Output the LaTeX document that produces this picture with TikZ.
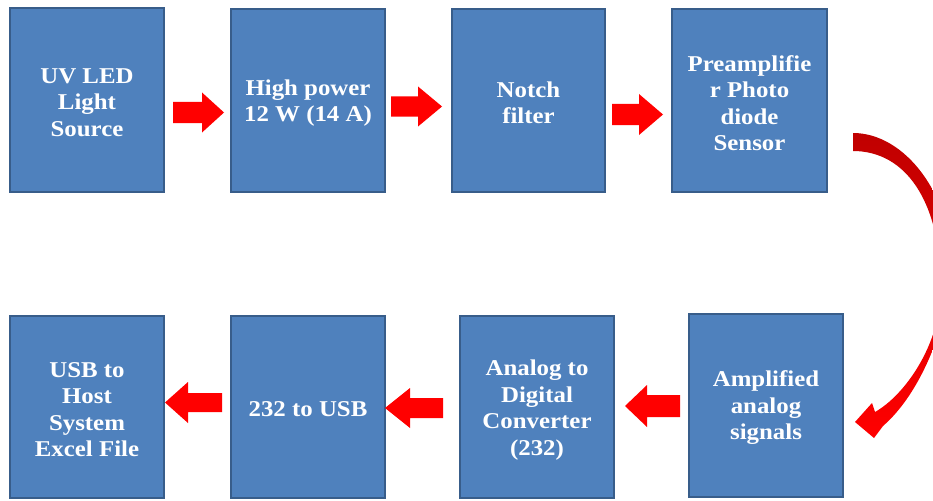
\documentclass[tikz,border=0pt]{standalone}
\usepackage{fontspec}
\setmainfont{Liberation Serif}[FakeStretch=1.1]
\definecolor{boxfill}{HTML}{4F81BD}
\definecolor{boxline}{HTML}{385D8A}
\definecolor{arrowred}{HTML}{FF0000}
\definecolor{darkred}{HTML}{C00000}
\newcommand\barr[6]{\fill[arrowred] (#1,#3-#4) -- (#5,#3-#4) -- (#5,#3-#6) -- (#2,#3) -- (#5,#3+#6) -- (#5,#3+#4) -- (#1,#3+#4) -- cycle;}
\tikzset{
  blockbox/.style={draw=boxline, line width=2pt, fill=boxfill, inner sep=0pt},
  boxtext/.style={text=white, align=center, inner sep=0pt,
    font=\fontsize{22.6}{26.5}\selectfont\bfseries}
}
\begin{document}
\begin{tikzpicture}[x=1pt,y=-1pt]
\useasboundingbox (0,0) rectangle (933,500);
\clip (0,0) rectangle (933,500);
\node[blockbox, minimum width=154pt, minimum height=184pt] (b1) at (87,100) {};
\node[blockbox, minimum width=154pt, minimum height=183pt] (b2) at (308,100.5) {};
\node[blockbox, minimum width=153pt, minimum height=183pt] (b3) at (528.5,100.5) {};
\node[blockbox, minimum width=155pt, minimum height=183pt] (b4) at (749.5,100.5) {};
\node[blockbox, minimum width=154pt, minimum height=182pt] (b5) at (87,407) {};
\node[blockbox, minimum width=154pt, minimum height=182pt] (b6) at (308,407) {};
\node[blockbox, minimum width=154pt, minimum height=182pt] (b7) at (537,407) {};
\node[blockbox, minimum width=154pt, minimum height=183pt] (b8) at (766,405.5) {};
\node[boxtext] (t1) at ([yshift=-2.5pt]b1.center) {UV LED\\Light\\Source};
\node[boxtext] (t2) at ([yshift=-2.5pt]b2.center) {High power\\12 W (14 A)};
\node[boxtext] (t3) at ([yshift=-2.5pt]b3.center) {Notch\\filter};
\node[boxtext] (t4) at ([yshift=-2.5pt]b4.center) {Preamplifie\\r Photo\\diode\\Sensor};
\node[boxtext] (t5) at ([yshift=-2.5pt]b5.center) {USB to\\Host\\System\\Excel File};
\node[boxtext] (t6) at ([yshift=-2.5pt]b6.center) {232 to USB};
\node[boxtext] (t7) at ([yshift=-3pt]b7.center) {Analog to\\Digital\\Converter\\(232)};
\node[boxtext] (t8) at ([yshift=-2.5pt]b8.center) {Amplified\\analog\\signals};
% straight block arrows
\barr{173}{224}{112.5}{10.5}{202}{20}
\barr{391}{442}{106.5}{10}{418}{20}
\barr{612}{663}{114.5}{10.5}{639}{20.5}
\barr{222}{165}{402.5}{9.5}{188}{20.5}
\barr{443}{385}{408}{10}{410}{20}
\barr{680}{625}{406}{11}{647}{21}
% curved arrow
\shade[top color=darkred, bottom color=arrowred]
  (853,133) .. controls (905,133) and (952,195) .. (952,268)
  .. controls (952,300) and (930,385) .. (883,426)
  -- (874,438) -- (855,422) -- (872,403) -- (875,412)
  .. controls (905,395) and (940,345) .. (941,290)
  .. controls (941,200) and (905,151) .. (853,151) -- cycle;
\end{tikzpicture}
\end{document}
